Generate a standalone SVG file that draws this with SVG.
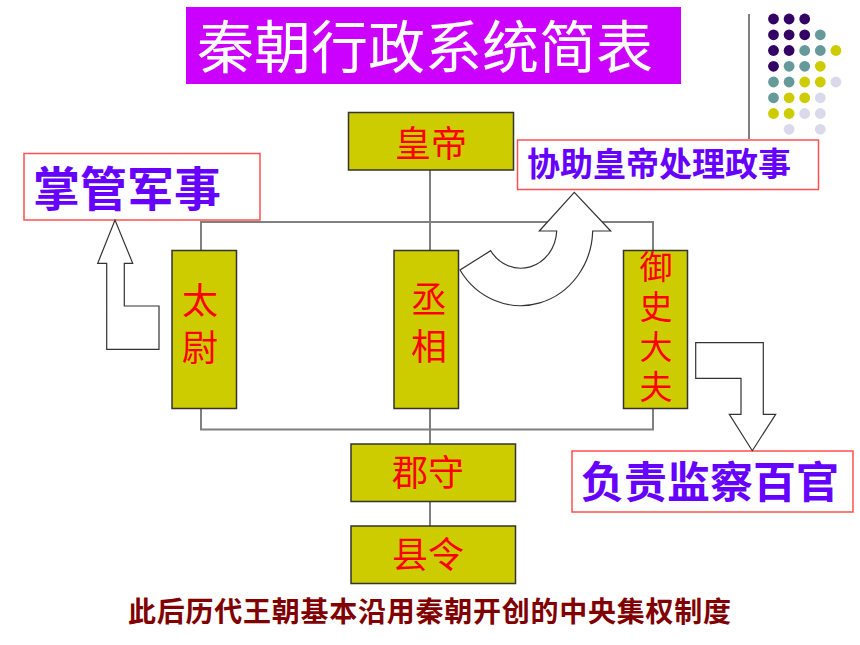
<svg xmlns="http://www.w3.org/2000/svg" width="860" height="645" viewBox="0 0 860 645">
<defs>
<style>
.bg{fill:#ffffff}
.office{fill:#CCCC00;stroke:#333333;stroke-width:1.5}
.otext{font-family:"Noto Sans CJK SC","Noto Sans CJK TC",sans-serif;fill:#FF0000;font-size:36px;text-anchor:middle}
.vtext{font-family:"Noto Sans CJK SC","Noto Sans CJK TC",sans-serif;fill:#FF0000;font-size:33px;writing-mode:vertical-rl;letter-spacing:7px}
.note{fill:#ffffff;stroke:#FF5050;stroke-width:1.5}
.ntext{font-family:"Noto Sans CJK SC",sans-serif;fill:#6600FF;font-weight:bold}
.conn{stroke:#808080;stroke-width:2;fill:none}
.barrow{fill:#ffffff;stroke:#333333;stroke-width:1.2;stroke-linejoin:miter}
.pu{fill:#330066}.te{fill:#669999}.ye{fill:#CCCC00}.la{fill:#D9D9EB}
</style>
</defs>
<rect class="bg" x="0" y="0" width="860" height="645"/>

<!-- decoration -->
<g id="decor">
<line x1="749" y1="14" x2="749" y2="139" stroke="#808080" stroke-width="2"/>
<circle class="pu" cx="773.5" cy="19" r="5.4"/><circle class="pu" cx="789.1" cy="19" r="5.4"/><circle class="pu" cx="804.7" cy="19" r="5.4"/>
<circle class="pu" cx="773.5" cy="34.8" r="5.4"/><circle class="pu" cx="789.1" cy="34.8" r="5.4"/><circle class="pu" cx="804.7" cy="34.8" r="5.4"/><circle class="te" cx="820.3" cy="34.8" r="5.4"/>
<circle class="pu" cx="773.5" cy="50.5" r="5.4"/><circle class="pu" cx="789.1" cy="50.5" r="5.4"/><circle class="te" cx="804.7" cy="50.5" r="5.4"/><circle class="te" cx="820.3" cy="50.5" r="5.4"/><circle class="ye" cx="835.9" cy="50.5" r="5.4"/>
<circle class="pu" cx="773.5" cy="66.3" r="5.4"/><circle class="te" cx="789.1" cy="66.3" r="5.4"/><circle class="te" cx="804.7" cy="66.3" r="5.4"/><circle class="ye" cx="820.3" cy="66.3" r="5.4"/>
<circle class="te" cx="773.5" cy="82" r="5.4"/><circle class="te" cx="789.1" cy="82" r="5.4"/><circle class="ye" cx="804.7" cy="82" r="5.4"/><circle class="ye" cx="820.3" cy="82" r="5.4"/><circle class="la" cx="835.9" cy="82" r="5.4"/>
<circle class="te" cx="773.5" cy="97.8" r="5.4"/><circle class="ye" cx="789.1" cy="97.8" r="5.4"/><circle class="ye" cx="804.7" cy="97.8" r="5.4"/><circle class="la" cx="820.3" cy="97.8" r="5.4"/>
<circle class="ye" cx="773.5" cy="113.5" r="5.4"/><circle class="ye" cx="789.1" cy="113.5" r="5.4"/><circle class="la" cx="804.7" cy="113.5" r="5.4"/><circle class="la" cx="820.3" cy="113.5" r="5.4"/>
<circle class="la" cx="789.1" cy="129.3" r="5.4"/><circle class="la" cx="820.3" cy="129.3" r="5.4"/>
</g>

<!-- title -->
<g id="title">
<rect x="186" y="7" width="495" height="77" fill="#CC00FF"/>
<text x="197" y="68" font-family="Noto Sans CJK SC, sans-serif" font-size="57" fill="#ffffff" textLength="456">秦朝行政系统简表</text>
</g>

<!-- connectors -->
<g id="connectors">
<line class="conn" x1="430" y1="170" x2="430" y2="444"/>
<polyline class="conn" points="201,250 201,222 653,222 653,251"/>
<polyline class="conn" points="201,408 201,429.5 653,429.5 653,408"/>
<line class="conn" x1="430" y1="501" x2="430" y2="526"/>
</g>

<!-- offices -->
<g id="huangdi">
<rect class="office" x="348.5" y="112.5" width="165" height="57.5"/>
<text class="otext" x="431" y="157">皇帝</text>
</g>
<g id="taiwei">
<rect class="office" x="172" y="250.5" width="64.5" height="158"/>
<text class="otext" x="200" y="314">太</text>
<text class="otext" x="200" y="361">尉</text>
</g>
<g id="chengxiang">
<rect class="office" x="394" y="250.5" width="64.5" height="158"/>
<text class="otext" x="429" y="313">丞</text>
<text class="otext" x="429" y="360">相</text>
</g>
<g id="yushidafu">
<rect class="office" x="623.5" y="250.5" width="64" height="158"/>
<text class="vtext" x="656" y="250">御史大夫</text>
</g>
<g id="junshou">
<rect class="office" x="351" y="444" width="164.5" height="57.5"/>
<text class="otext" x="428" y="486">郡守</text>
</g>
<g id="xianling">
<rect class="office" x="351" y="526" width="164.5" height="57.5"/>
<text class="otext" x="428" y="568">县令</text>
</g>

<!-- notes -->
<g id="note-military">
<rect class="note" x="24" y="153.5" width="236" height="66.5"/>
<text class="ntext" x="33" y="206" font-size="47">掌管军事</text>
</g>
<g id="note-assist">
<rect class="note" x="517.5" y="140" width="301" height="49.5"/>
<text class="ntext" x="527" y="176" font-size="33">协助皇帝处理政事</text>
</g>
<g id="note-supervise">
<rect class="note" x="572" y="451" width="281" height="61"/>
<text class="ntext" x="581" y="498" font-size="43">负责监察百官</text>
</g>

<!-- block arrows -->
<g id="arrows">
<path class="barrow" d="M106.7,349.3 L106.7,263.3 L97.7,263.3 L115,220 L132.7,263.3 L124.3,263.3 L124.3,306 L159,306 L159,349.3 Z"/>
<path class="barrow" d="M695.7,342.7 L763.3,342.7 L763.3,414.3 L775.7,414.3 L752.3,450.7 L729.3,414.3 L741,414.3 L741,378.3 L695.7,378.3 Z"/>
<path class="barrow" d="M539.3,231 L574.3,192.3 L610.7,231 L592.7,231 A72,77 0 0 1 460,270 L490.7,250.7 A36,39 0 0 0 556.7,231 Z"/>
</g>

<!-- footer -->
<g id="footer">
<text x="128" y="622" font-family="Noto Sans CJK SC, sans-serif" font-weight="bold" font-size="28" fill="#800000" textLength="603">此后历代王朝基本沿用秦朝开创的中央集权制度</text>
</g>
</svg>
